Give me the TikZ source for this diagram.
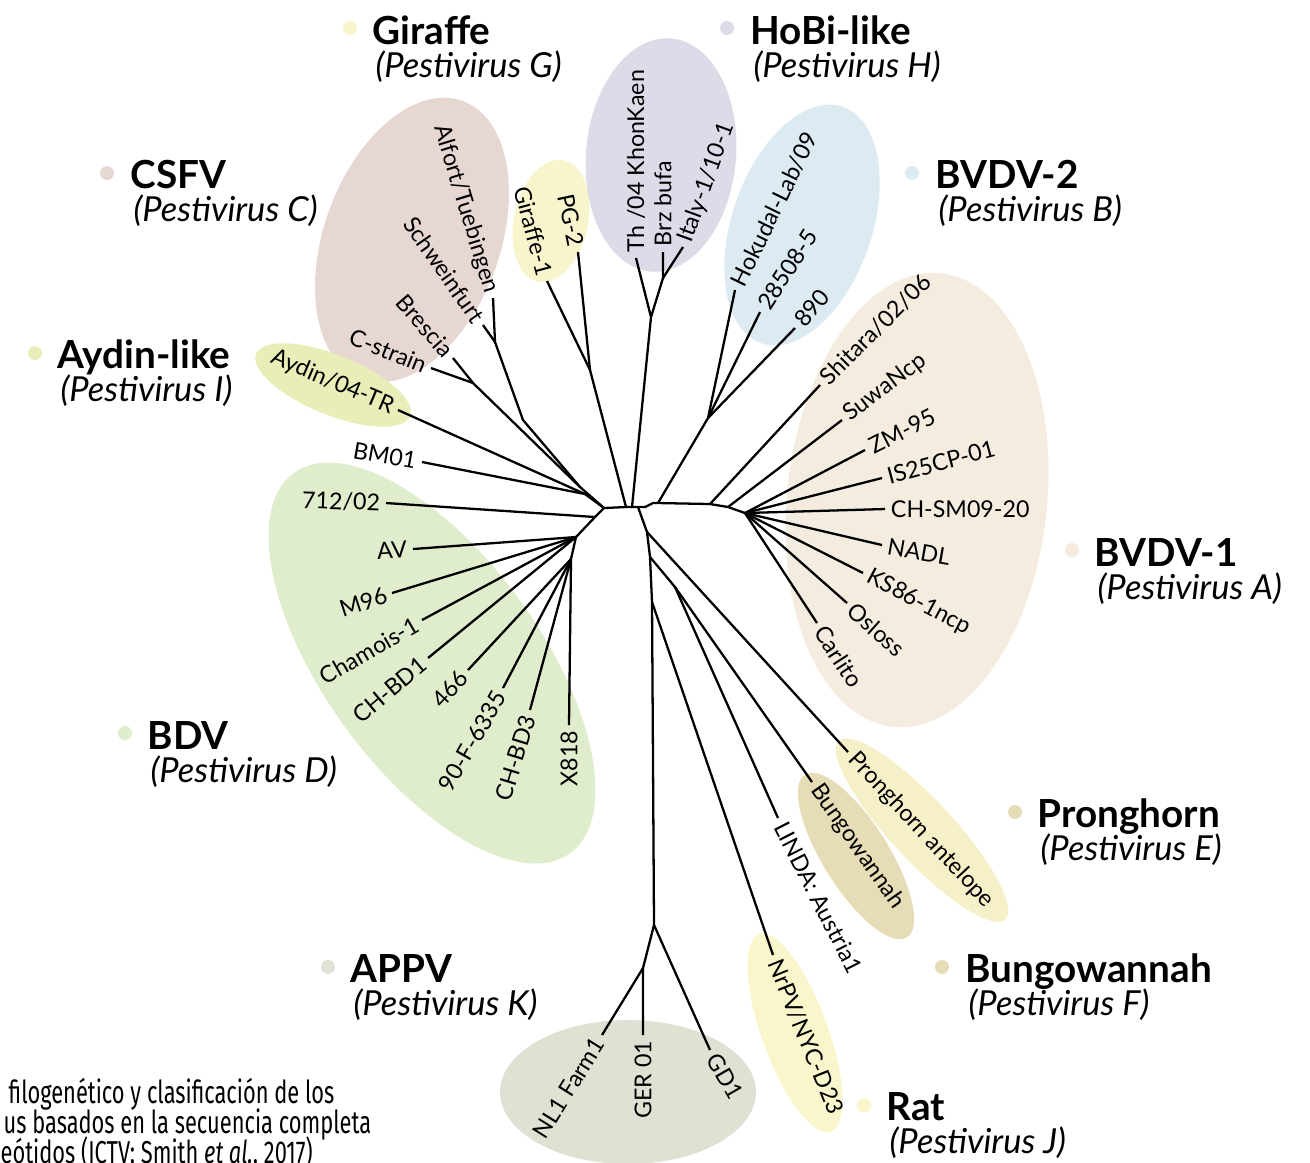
\documentclass[tikz,border=0pt]{standalone}
\usepackage{fontspec}
\setmainfont{Lato}
\newfontfamily\capfont[FakeStretch=0.69]{Fira Sans}
\usetikzlibrary{positioning}

\definecolor{csfv}{HTML}{E6D7D3}
\definecolor{giraffe}{HTML}{F8F5CC}
\definecolor{hobi}{HTML}{DEDAE8}
\definecolor{bvdvtwo}{HTML}{DCEAF1}
\definecolor{aydin}{HTML}{E9EEB8}
\definecolor{bvdvone}{HTML}{F4ECDF}
\definecolor{bdv}{HTML}{E0EDCC}
\definecolor{pronghorn}{HTML}{F6F0C9}
\definecolor{bungo}{HTML}{E6DCB5}
\definecolor{appv}{HTML}{E1E1D3}
\definecolor{rat}{HTML}{F9F6CB}

\begin{document}
\begin{tikzpicture}[x=0.01cm,y=-0.01cm]
	\tikzstyle{every node}+=[inner sep=0pt]
	\tikzstyle{branch}=[black, line width=0.65pt]
	\tikzstyle{leaf}=[font=\fontsize{6.6}{7}\selectfont, inner sep=1.5pt]
	\tikzstyle{grp}=[font=\fontsize{11}{13}\selectfont\bfseries, anchor=base west]
	\tikzstyle{spc}=[font=\fontsize{9.8}{11}\selectfont\itshape, anchor=base west]
	\tikzstyle{blob}=[circle, minimum size=0.14cm]
	\tikzstyle{caption}=[font=\capfont\fontsize{9}{9}\selectfont, anchor=base west]
	\useasboundingbox (0,0) rectangle (1310,1162);

	% clade backgrounds
	\fill [csfv, rotate around={70:(412,240)}] (412,240) ellipse (148 and 88);
	\fill [giraffe, rotate around={78:(551,221)}] (551,221) ellipse (62 and 37);
	\fill [hobi, rotate around={85:(661,155)}] (661,155) ellipse (117 and 75);
	\fill [bvdvtwo, rotate around={71:(802,225)}] (802,225) ellipse (125 and 70);
	\fill [aydin, rotate around={-22:(333,385)}] (333,385) ellipse (83 and 30);
	\fill [bvdvone, rotate around={84:(917,500)}] (917,500) ellipse (228 and 130);
	\fill [bdv, rotate around={-54:(432,663)}] (432,663) ellipse (235 and 108);
	\fill [pronghorn, rotate around={-47:(922,830)}] (922,830) ellipse (122 and 31);
	\fill [bungo, rotate around={-58:(856,856)}] (856,856) ellipse (96 and 33);
	\fill [rat, rotate around={-70:(795,1033)}] (795,1033) ellipse (105 and 33);
	\fill [appv] (628,1092) ellipse (128 and 72);

	% backbone
	\coordinate (bL) at (604,508);
	\coordinate (b1) at (626,507);
	\coordinate (b2) at (632,507);
	\coordinate (b3) at (638,507);
	\coordinate (b4) at (645,507);
	\coordinate (b5) at (653,503);
	\coordinate (b6) at (658,503);
	\coordinate (b7) at (710,504);
	\coordinate (b8) at (728,507);
	\coordinate (b9) at (745,513);
	\draw [branch] (bL) -- (b1) -- (b2) -- (b3) -- (b4) -- (b5) -- (b6) -- (b7) -- (b8) -- (b9);

	% CSFV
	\coordinate (cA) at (580,487);
	\coordinate (cM) at (523,420);
	\coordinate (cT) at (495,342);
	\coordinate (cB) at (473,383);
	\coordinate (alfort) at (493,298);
	\coordinate (schwein) at (483,325);
	\coordinate (brescia) at (453,358);
	\coordinate (cstrain) at (431,368);
	\draw [branch] (alfort) -- (cT) -- (cM) -- (cA) -- (bL);
	\draw [branch] (schwein) -- (cT);
	\draw [branch] (brescia) -- (cB) -- (cA);
	\draw [branch] (cstrain) -- (cB);

	% Aydin, BM01
	\coordinate (aB) at (585,494);
	\coordinate (aydin) at (398,410);
	\coordinate (bm01) at (422,462);
	\draw [branch] (aydin) -- (aB) -- (bL);
	\draw [branch] (bm01) -- (aB);

	% Giraffe
	\coordinate (gJ) at (590,370);
	\coordinate (giraffe1) at (547,281);
	\coordinate (pg2) at (578,252);
	\draw [branch] (giraffe1) -- (gJ) -- (b1);
	\draw [branch] (pg2) -- (gJ);

	% HoBi
	\coordinate (hJ) at (651,317);
	\coordinate (hJa) at (663,278);
	\coordinate (thkk) at (636,258);
	\coordinate (brz) at (663,252);
	\coordinate (italy) at (683,247);
	\draw [branch] (thkk) -- (hJ) -- (b2);
	\draw [branch] (brz) -- (hJa) -- (hJ);
	\draw [branch] (italy) -- (hJa);

	% BVDV-2
	\coordinate (vJ) at (708,418);
	\coordinate (hokudal) at (735,290);
	\coordinate (v28508) at (760,312);
	\coordinate (v890) at (795,328);
	\draw [branch] (hokudal) -- (vJ) -- (b6);
	\draw [branch] (v28508) -- (vJ);
	\draw [branch] (v890) -- (vJ);

	% BVDV-1
	\coordinate (shitara) at (820,385);
	\coordinate (suwa) at (842,420);
	\coordinate (zm95) at (865,450);
	\coordinate (is25) at (882,478);
	\coordinate (chsm) at (885,509);
	\coordinate (nadl) at (882,545);
	\coordinate (ks86) at (863,573);
	\coordinate (osloss) at (847,603);
	\coordinate (carlito) at (817,623);
	\draw [branch] (shitara) -- (b7);
	\draw [branch] (suwa) -- (b8);
	\draw [branch] (zm95) -- (b9);
	\draw [branch] (is25) -- (b9);
	\draw [branch] (chsm) -- (b9);
	\draw [branch] (nadl) -- (b9);
	\draw [branch] (ks86) -- (b9);
	\draw [branch] (osloss) -- (b9);
	\draw [branch] (carlito) -- (b9);

	% lower stem
	\coordinate (s1) at (647,532);
	\coordinate (s2) at (650,557);
	\coordinate (s3) at (652,602);
	\coordinate (s4) at (654,925);
	\coordinate (sBL) at (675,587);
	\coordinate (aJ) at (643,968);
	\coordinate (prong) at (848,752);
	\coordinate (bungow) at (812,782);
	\coordinate (linda) at (778,818);
	\coordinate (nrpv) at (773,955);
	\coordinate (gd1) at (710,1050);
	\coordinate (ger01) at (643,1035);
	\coordinate (nl1) at (602,1035);
	\draw [branch] (b3) -- (s1) -- (s2) -- (s3) -- (s4);
	\draw [branch] (s1) -- (prong);
	\draw [branch] (s2) -- (sBL) -- (bungow);
	\draw [branch] (sBL) -- (linda);
	\draw [branch] (s3) -- (nrpv);
	\draw [branch] (s4) -- (gd1);
	\draw [branch] (s4) -- (aJ) -- (ger01);
	\draw [branch] (aJ) -- (nl1);

	% BDV
	\coordinate (dJ0) at (595,517);
	\coordinate (dJ) at (576,537);
	\coordinate (dJ2) at (571,559);
	\coordinate (d712) at (386,503);
	\coordinate (av) at (413,549);
	\coordinate (m96) at (392,593);
	\coordinate (chamois) at (422,620);
	\coordinate (chbd1) at (428,658);
	\coordinate (d466) at (468,670);
	\coordinate (d90f) at (503,688);
	\coordinate (chbd3) at (530,710);
	\coordinate (x818) at (569,725);
	\draw [branch] (bL) -- (dJ0) -- (dJ) -- (dJ2);
	\draw [branch] (d712) -- (dJ0);
	\draw [branch] (av) -- (dJ);
	\draw [branch] (m96) -- (dJ);
	\draw [branch] (chamois) -- (dJ);
	\draw [branch] (chbd1) -- (dJ);
	\draw [branch] (d466) -- (dJ2);
	\draw [branch] (d90f) -- (dJ2);
	\draw [branch] (chbd3) -- (dJ2);
	\draw [branch] (x818) -- (dJ2);

	% leaf labels
	\node [leaf, anchor=east, rotate=-73] (lAlfort) at (alfort) {Alfort/Tuebingen};
	\node [leaf, anchor=east, rotate=-55] (lSchwein) at (schwein) {Schweinfurt};
	\node [leaf, anchor=east, rotate=-49] (lBrescia) at (brescia) {Brescia};
	\node [leaf, anchor=east, rotate=-22] (lCstrain) at (cstrain) {C-strain};
	\node [leaf, anchor=east, rotate=-23] (lAydin) at (aydin) {Aydin/04-TR};
	\node [leaf, anchor=east, rotate=-10] (lBM) at (bm01) {BM01};
	\node [leaf, anchor=east, rotate=-2] (l712) at (d712) {712/02};
	\node [leaf, anchor=east, rotate=4] (lAV) at (av) {AV};
	\node [leaf, anchor=east, rotate=18] (lM96) at (m96) {M96};
	\node [leaf, anchor=east, rotate=30] (lChamois) at (chamois) {Chamois-1};
	\node [leaf, anchor=east, rotate=40] (lCHBD1) at (chbd1) {CH-BD1};
	\node [leaf, anchor=east, rotate=47] (l466) at (d466) {466};
	\node [leaf, anchor=east, rotate=60] (l90F) at (d90f) {90-F-6335};
	\node [leaf, anchor=east, rotate=73] (lCHBD3) at (chbd3) {CH-BD3};
	\node [leaf, anchor=east, rotate=90] (lX818) at (x818) {X818};
	\node [leaf, anchor=east, rotate=-75] (lGiraffe1) at (giraffe1) {Giraffe-1};
	\node [leaf, anchor=east, rotate=-78] (lPG2) at (pg2) {PG-2};
	\node [leaf, anchor=west, rotate=90] (lThKK) at (thkk) {Th /04 KhonKaen};
	\node [leaf, anchor=west, rotate=90] (lBrz) at (brz) {Brz bufa};
	\node [leaf, anchor=west, rotate=70] (lItaly) at (italy) {Italy-1/10-1};
	\node [leaf, anchor=west, rotate=64] (lHokudal) at (hokudal) {Hokudal-Lab/09};
	\node [leaf, anchor=west, rotate=57] (l28508) at (v28508) {28508-5};
	\node [leaf, anchor=west, rotate=50] (l890) at (v890) {890};
	\node [leaf, anchor=west, rotate=45] (lShitara) at (shitara) {Shitara/02/06};
	\node [leaf, anchor=west, rotate=37] (lSuwa) at (suwa) {SuwaNcp};
	\node [leaf, anchor=west, rotate=27] (lZM) at (zm95) {ZM-95};
	\node [leaf, anchor=west, rotate=15] (lIS25) at (is25) {IS25CP-01};
	\node [leaf, anchor=west] (lCHSM) at (chsm) {CH-SM09-20};
	\node [leaf, anchor=west, rotate=-10] (lNADL) at (nadl) {NADL};
	\node [leaf, anchor=west, rotate=-28] (lKS86) at (ks86) {KS86-1ncp};
	\node [leaf, anchor=west, rotate=-42] (lOsloss) at (osloss) {Osloss};
	\node [leaf, anchor=west, rotate=-57] (lCarlito) at (carlito) {Carlito};
	\node [leaf, anchor=west, rotate=-47] (lProng) at (prong) {Pronghorn antelope};
	\node [leaf, anchor=west, rotate=-55] (lBungo) at (bungow) {Bungowannah};
	\node [leaf, anchor=west, rotate=-63] (lLinda) at (linda) {LINDA: Austria1};
	\node [leaf, anchor=west, rotate=-68] (lNrPV) at (nrpv) {NrPV/NYC-D23};
	\node [leaf, anchor=west, rotate=-60] (lGD1) at (gd1) {GD1};
	\node [leaf, anchor=east, rotate=90] (lGER) at (ger01) {GER 01};
	\node [leaf, anchor=east, rotate=58] (lNL1) at (nl1) {NL1 Farm1};

	% species titles
	\node [blob, fill=giraffe] (dGiraffe) at (350,28) {};
	\node [grp] (tGiraffe) at (372,44) {Giraffe};
	\node [spc, below=9.4pt of tGiraffe.base west, anchor=base west, xshift=0.8pt] (sGiraffe) {(Pestivirus G)};
	\node [blob, fill=hobi] (dHobi) at (727,28) {};
	\node [grp] (tHobi) at (750,44) {HoBi-like};
	\node [spc, below=9.4pt of tHobi.base west, anchor=base west, xshift=0.8pt] (sHobi) {(Pestivirus H)};
	\node [blob, fill=csfv] (dCSFV) at (107,173) {};
	\node [grp] (tCSFV) at (130,188) {CSFV};
	\node [spc, below=9.4pt of tCSFV.base west, anchor=base west, xshift=0.8pt] (sCSFV) {(Pestivirus C)};
	\node [blob, fill=bvdvtwo] (dBVDVb) at (912,173) {};
	\node [grp] (tBVDVb) at (935,188) {BVDV-2};
	\node [spc, below=9.4pt of tBVDVb.base west, anchor=base west, xshift=0.8pt] (sBVDVb) {(Pestivirus B)};
	\node [blob, fill=aydin] (dAydin) at (35,353) {};
	\node [grp] (tAydin) at (57,368) {Aydin-like};
	\node [spc, below=9.4pt of tAydin.base west, anchor=base west, xshift=0.8pt] (sAydin) {(Pestivirus I)};
	\node [blob, fill=bvdvone] (dBVDVa) at (1072,550) {};
	\node [grp] (tBVDVa) at (1094,566) {BVDV-1};
	\node [spc, below=9.4pt of tBVDVa.base west, anchor=base west, xshift=0.8pt] (sBVDVa) {(Pestivirus A)};
	\node [blob, fill=bdv] (dBDV) at (125,733) {};
	\node [grp] (tBDV) at (147,749) {BDV};
	\node [spc, below=9.4pt of tBDV.base west, anchor=base west, xshift=0.8pt] (sBDV) {(Pestivirus D)};
	\node [blob, fill=bungo] (dProng) at (1015,812) {};
	\node [grp] (tProng) at (1037,827) {Pronghorn};
	\node [spc, below=9.4pt of tProng.base west, anchor=base west, xshift=0.8pt] (sProng) {(Pestivirus E)};
	\node [blob, fill=bungo] (dBungo) at (942,967) {};
	\node [grp] (tBungo) at (965,982) {Bungowannah};
	\node [spc, below=9.4pt of tBungo.base west, anchor=base west, xshift=0.8pt] (sBungo) {(Pestivirus F)};
	\node [blob, fill=appv] (dAPPV) at (328,967) {};
	\node [grp] (tAPPV) at (350,982) {APPV};
	\node [spc, below=9.4pt of tAPPV.base west, anchor=base west, xshift=0.8pt] (sAPPV) {(Pestivirus K)};
	\node [blob, fill=rat] (dRat) at (864,1105) {};
	\node [grp] (tRat) at (886,1120) {Rat};
	\node [spc, below=9.4pt of tRat.base west, anchor=base west, xshift=0.8pt] (sRat) {(Pestivirus J)};

	% caption (cut by the page edge)
	\node [caption] (cap1) at (8,1103) {filogenético y clasificación de los};
	\node [caption] (cap2) at (3,1133) {us basados en la secuencia completa};
	\node [caption] (cap3) at (0,1163) {eótidos (ICTV; Smith \textit{et al.}, 2017)};
\end{tikzpicture}
\end{document}
